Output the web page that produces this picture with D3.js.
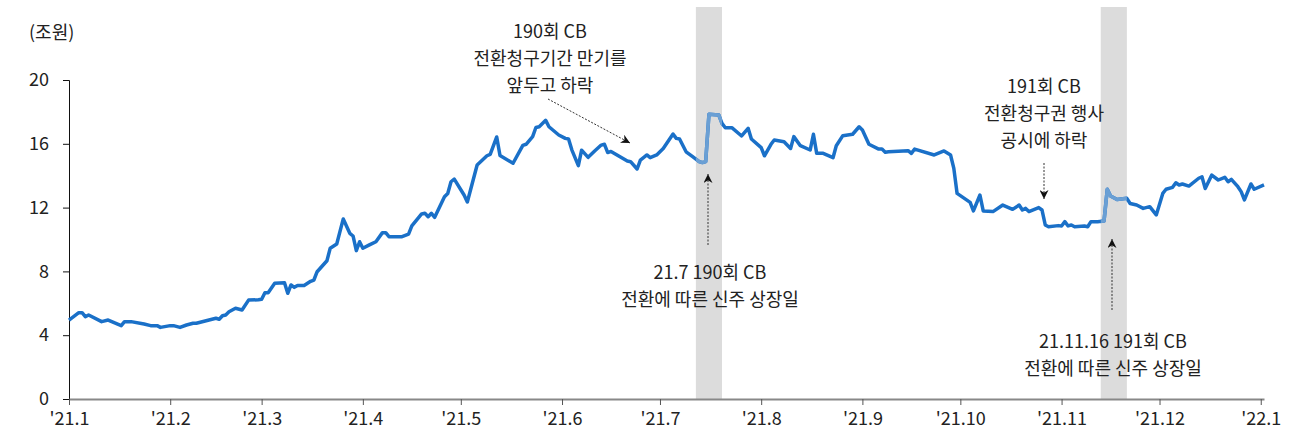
<html>
<head>
	<script src="https://d3js.org/d3.v7.min.js"></script>
	<style>
		body{ margin: 0; background: #fff;}
		text{ font-family: "Noto Sans CJK KR", "Noto Sans", sans-serif; fill: #222;}
		.axis text{ font-size: 18px;}
		.note{ font-size: 18px; text-anchor: middle;}
	</style>
</head>
<body>
	<script>

var width = 1292,
	height = 446;

// data, 조원
var dates = [
	"2021-01-01","2021-01-04","2021-01-05","2021-01-06","2021-01-07","2021-01-11","2021-01-13","2021-01-17","2021-01-18","2021-01-20",
	"2021-01-24","2021-01-26","2021-01-28","2021-01-29","2021-02-01","2021-02-02","2021-02-04","2021-02-06","2021-02-08","2021-02-09",
	"2021-02-15","2021-02-16","2021-02-17","2021-02-18","2021-02-19","2021-02-21","2021-02-23","2021-02-25","2021-02-28","2021-03-01",
	"2021-03-02","2021-03-03","2021-03-05","2021-03-08","2021-03-09","2021-03-10","2021-03-11","2021-03-12","2021-03-14","2021-03-16",
	"2021-03-17","2021-03-18","2021-03-21","2021-03-22","2021-03-24","2021-03-26","2021-03-28","2021-03-29","2021-03-30","2021-03-31",
	"2021-04-01","2021-04-03","2021-04-05","2021-04-07","2021-04-08","2021-04-09","2021-04-13","2021-04-15","2021-04-16","2021-04-19",
	"2021-04-20","2021-04-21","2021-04-22","2021-04-23","2021-04-26","2021-04-27","2021-04-28","2021-04-29","2021-05-02","2021-05-03",
	"2021-05-06","2021-05-09","2021-05-10","2021-05-12","2021-05-13","2021-05-17","2021-05-20","2021-05-21","2021-05-23","2021-05-24",
	"2021-05-25","2021-05-27","2021-05-28","2021-05-31","2021-06-02","2021-06-03","2021-06-04","2021-06-06","2021-06-07","2021-06-09",
	"2021-06-11","2021-06-13","2021-06-14","2021-06-15","2021-06-16","2021-06-21","2021-06-22","2021-06-24","2021-06-25","2021-06-27",
	"2021-06-28","2021-06-30","2021-07-02","2021-07-05","2021-07-06","2021-07-07","2021-07-09","2021-07-11","2021-07-13","2021-07-14",
	"2021-07-15","2021-07-16","2021-07-19","2021-07-20","2021-07-21","2021-07-23","2021-07-26","2021-07-28","2021-07-29","2021-08-01",
	"2021-08-02","2021-08-04","2021-08-05","2021-08-08","2021-08-10","2021-08-11","2021-08-13","2021-08-16","2021-08-17","2021-08-18",
	"2021-08-20","2021-08-23","2021-08-24","2021-08-26","2021-08-29","2021-08-31","2021-09-01","2021-09-03","2021-09-06","2021-09-07",
	"2021-09-08","2021-09-09","2021-09-15","2021-09-16","2021-09-17","2021-09-23","2021-09-26","2021-09-28","2021-09-29","2021-09-30",
	"2021-10-04","2021-10-05","2021-10-07","2021-10-08","2021-10-11","2021-10-14","2021-10-17","2021-10-19","2021-10-20","2021-10-21",
	"2021-10-22","2021-10-25","2021-10-26","2021-10-27","2021-10-28","2021-10-31","2021-11-01","2021-11-02","2021-11-03","2021-11-04",
	"2021-11-05","2021-11-08","2021-11-09","2021-11-10","2021-11-12","2021-11-14","2021-11-15","2021-11-16","2021-11-18","2021-11-21",
	"2021-11-22","2021-11-24","2021-11-26","2021-11-28","2021-11-30","2021-12-02","2021-12-03","2021-12-05","2021-12-06","2021-12-07",
	"2021-12-08","2021-12-10","2021-12-13","2021-12-14","2021-12-15","2021-12-17","2021-12-19","2021-12-21","2021-12-22","2021-12-23",
	"2021-12-25","2021-12-26","2021-12-27","2021-12-29","2021-12-30","2022-01-02"
];

var values = [
	4.95,5.41,5.41,5.16,5.27,4.85,4.95,4.60,4.85,4.85,
	4.70,4.60,4.60,4.49,4.60,4.60,4.49,4.64,4.75,4.75,
	5.06,5.00,5.22,5.27,5.47,5.69,5.58,6.20,6.22,6.25,
	6.66,6.66,7.25,7.29,6.63,7.15,7.00,7.12,7.12,7.38,
	7.46,7.98,8.67,9.45,9.72,11.29,10.39,10.22,9.30,9.86,
	9.45,9.66,9.86,10.43,10.43,10.18,10.18,10.34,10.85,11.60,
	11.64,11.43,11.64,11.39,12.68,12.89,13.62,13.79,12.79,12.35,
	14.67,15.25,15.34,16.43,15.27,14.78,15.90,15.97,16.45,17.02,
	17.07,17.47,17.07,16.55,16.34,16.30,15.62,14.63,15.60,15.15,
	15.55,15.92,15.97,15.45,15.52,14.92,14.88,14.42,14.98,15.30,
	15.13,15.30,15.70,16.61,16.34,16.30,15.50,15.19,14.88,14.82,
	14.88,17.85,17.81,17.28,17.01,17.01,16.49,16.97,16.30,15.76,
	15.25,15.97,16.24,16.13,15.71,16.45,15.88,15.61,16.60,15.40,
	15.40,15.13,15.88,16.51,16.60,17.07,16.87,15.97,15.67,15.67,
	15.47,15.50,15.57,15.40,15.67,15.30,15.55,15.30,14.46,12.89,
	12.33,11.79,12.79,11.79,11.75,12.16,11.89,12.16,11.85,11.95,
	11.75,12.00,11.85,10.91,10.80,10.87,10.85,11.12,10.85,10.91,
	10.80,10.85,10.80,11.12,11.12,11.16,13.15,12.73,12.51,12.58,
	12.26,12.16,11.95,12.06,11.54,12.89,13.15,13.27,13.56,13.42,
	13.48,13.35,13.84,13.93,13.20,14.04,13.73,13.90,13.62,13.77,
	13.31,13.00,12.48,13.48,13.15,13.42
];

// 음영 구간 (신주 상장일 전후)
var bandStart = ["2021-07-12", "2021-11-13"];
var bandEnd = ["2021-07-20", "2021-11-21"];

var yTicks = [0, 4, 8, 12, 16, 20];
var xTickDates = ["2021-01-01","2021-02-01","2021-03-01","2021-04-01","2021-05-01","2021-06-01","2021-07-01",
	"2021-08-01","2021-09-01","2021-10-01","2021-11-01","2021-12-01","2022-01-01"];
var xTickLabels = ["'21.1","'21.2","'21.3","'21.4","'21.5","'21.6","'21.7","'21.8","'21.9","'21.10","'21.11","'21.12","'22.1"];

var parse = d3.timeParse("%Y-%m-%d");
var data = dates.map(function(d, i){ return {date: parse(d), value: values[i]}; });

var svg = d3.select("body")
	.append("svg")
	.attr("width", width)
	.attr("height", height);

var x = d3.scaleTime()
	.domain([parse("2021-01-01"), parse("2022-01-02")])
	.range([69, 1264]);

var y = d3.scaleLinear()
	.domain([0, 20])
	.range([399, 80]);

// bands
var bands = svg.append("g").attr("id", "bands");
bandStart.forEach(function(s, i){
	bands.append("rect")
		.attr("x", x(parse(s)))
		.attr("y", 7)
		.attr("width", x(parse(bandEnd[i])) - x(parse(s)))
		.attr("height", 399 - 7)
		.attr("fill", "#dcdcdc");
});

var defs = svg.append("defs");
var clip = defs.append("clipPath").attr("id", "bandclip");
bandStart.forEach(function(s, i){
	clip.append("rect")
		.attr("x", x(parse(s)))
		.attr("y", 0)
		.attr("width", x(parse(bandEnd[i])) - x(parse(s)))
		.attr("height", height);
});

defs.append("marker")
	.attr("id", "arrow")
	.attr("viewBox", "0 0 10 10")
	.attr("refX", 10)
	.attr("refY", 5)
	.attr("markerWidth", 9)
	.attr("markerHeight", 9)
	.attr("markerUnits", "userSpaceOnUse")
	.attr("orient", "auto")
	.append("path")
	.attr("d", "M0,0 L10,5 L0,10 L3,5 Z")
	.attr("fill", "#111");

// axes
var yAxis = svg.append("g")
	.attr("class", "axis")
	.attr("transform", "translate(69,0)")
	.call(d3.axisLeft(y).tickValues(yTicks).tickSize(6).tickPadding(14));
yAxis.select(".domain").attr("stroke", "#111").attr("d", "M-6,80.5H0.5V399");
yAxis.selectAll("line").attr("stroke", "#111");

var xAxis = svg.append("g")
	.attr("class", "axis")
	.attr("transform", "translate(0,399)")
	.call(d3.axisBottom(x)
		.tickValues(xTickDates.map(parse))
		.tickFormat(function(d, i){ return xTickLabels[i]; })
		.tickSize(6)
		.tickSizeOuter(0)
		.tickPadding(7));
xAxis.select(".domain").attr("stroke", "#888").attr("stroke-width", 2);
xAxis.selectAll("line").attr("stroke", "#555");

svg.append("text")
	.attr("x", 29)
	.attr("y", 39)
	.style("font-size", "18px")
	.text("(조원)");

// line
var line = d3.line()
	.x(function(d){ return x(d.date); })
	.y(function(d){ return y(d.value); });

svg.append("path")
	.datum(data)
	.attr("d", line)
	.attr("fill", "none")
	.attr("stroke", "#1a70c8")
	.attr("stroke-width", 3.5)
	.attr("stroke-linejoin", "round");

svg.append("path")
	.datum(data)
	.attr("d", line)
	.attr("clip-path", "url(#bandclip)")
	.attr("fill", "none")
	.attr("stroke", "#6a9fd4")
	.attr("stroke-width", 3.5)
	.attr("stroke-linejoin", "round");

// annotations
function note(cx, top, lines){
	var t = svg.append("text").attr("class", "note");
	lines.forEach(function(l, i){
		t.append("tspan").attr("x", cx).attr("y", top + i * 27).text(l);
	});
}
function arrow(x1, y1, x2, y2){
	svg.append("line")
		.attr("x1", x1).attr("y1", y1)
		.attr("x2", x2).attr("y2", y2)
		.attr("stroke", "#333")
		.attr("stroke-width", 1)
		.attr("stroke-dasharray", "2,1.5")
		.attr("marker-end", "url(#arrow)");
}

note(550, 38, ["190회 CB", "전환청구기간 만기를", "앞두고 하락"]);
arrow(548, 99, 630, 143);

note(710, 279, ["21.7 190회 CB", "전환에 따른 신주 상장일"]);
arrow(708, 245, 708, 174);

note(1044, 93, ["191회 CB", "전환청구권 행사", "공시에 하락"]);
arrow(1044, 163, 1044, 199);

note(1113, 348, ["21.11.16 191회 CB", "전환에 따른 신주 상장일"]);
arrow(1112, 310, 1112, 239);

	</script>
</body>
</html>
